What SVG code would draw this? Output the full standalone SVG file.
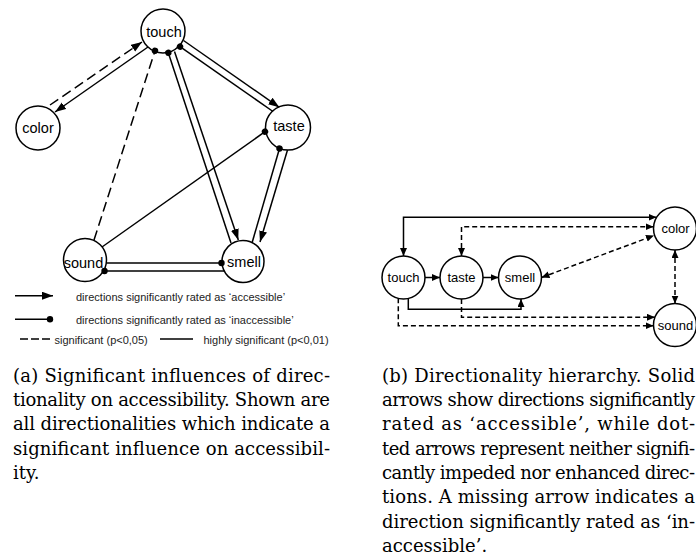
<svg xmlns="http://www.w3.org/2000/svg" width="696" height="559" viewBox="0 0 696 559">
<style>
.bg{fill:#fff}
.node{fill:#fff;stroke:#000;stroke-width:1.5}
.lbl{font-family:"Liberation Sans",Arial,sans-serif;font-size:14.5px;fill:#000;text-anchor:middle}
.lblb{font-family:"Liberation Sans",Arial,sans-serif;font-size:13px;fill:#000;text-anchor:middle}
.e{fill:none;stroke:#000;stroke-width:1.5}
.da{stroke-dasharray:10 5}
.db{stroke-dasharray:5 3}
.aa{marker-end:url(#arrA)}
.ad{marker-end:url(#dotA)}
.bb{marker-start:url(#arrB);marker-end:url(#arrB)}
.be{marker-end:url(#arrB)}
.leg{font-family:"Liberation Sans",Arial,sans-serif;font-size:11px;fill:#222}
.cap{font-family:"DejaVu Serif","Liberation Serif",serif;font-size:18px;fill:#000}
</style>
<defs>
<marker id="arrA" markerUnits="userSpaceOnUse" markerWidth="12" markerHeight="9" refX="11" refY="4" orient="auto-start-reverse"><path d="M0,0 L11,4 L0,8 z" fill="#000"/></marker>
<marker id="dotA" markerUnits="userSpaceOnUse" markerWidth="8" markerHeight="8" refX="4" refY="4" orient="auto"><circle cx="4" cy="4" r="3.2" fill="#000"/></marker>
<marker id="arrB" markerUnits="userSpaceOnUse" markerWidth="9" markerHeight="8" refX="8" refY="3.5" orient="auto-start-reverse"><path d="M0,0 L8,3.5 L0,7 z" fill="#000"/></marker>
</defs>
<rect class="bg" x="0" y="0" width="696" height="559"/>

<!-- Part (a) nodes -->
<g id="a-touch"><circle class="node" cx="163" cy="31" r="22"/><text class="lbl" x="164" y="37">touch</text></g>
<g id="a-color"><circle class="node" cx="38" cy="128" r="22"/><text class="lbl" x="38" y="133">color</text></g>
<g id="a-taste"><circle class="node" cx="288" cy="127.5" r="22.5"/><text class="lbl" x="289" y="131">taste</text></g>
<g id="a-sound"><circle class="node" cx="85" cy="260" r="21.5"/><text class="lbl" x="83.5" y="268">sound</text></g>
<g id="a-smell"><circle class="node" cx="243" cy="261.5" r="21"/><text class="lbl" x="244" y="267">smell</text></g>

<!-- Part (a) connectors -->
<g id="a-connectors">
<path class="e da aa" d="M50,105 L142,42"/>
<path class="e aa" d="M148,47 L55,112"/>
<path class="e da ad" d="M94,240 L155,50.7"/>
<path class="e ad" d="M231,243 L168.3,52.7"/>
<path class="e aa" d="M174.5,51.5 L238.3,240"/>
<path class="e aa" d="M183.5,40.5 L279.3,107.3"/>
<path class="e ad" d="M273,111.5 L180,46.7"/>
<path class="e ad" d="M252,243 L279.5,148.5"/>
<path class="e aa" d="M287.5,150 L260,242"/>
<path class="e ad" d="M102,247 L265,131.7"/>
<path class="e ad" d="M106.5,263 L221.5,263"/>
<path class="e ad" d="M224.3,271 L104.5,271"/>
</g>

<!-- Legend -->
<g id="legend">
<path class="e aa" d="M15,295.7 L53,295.7"/>
<text class="leg" x="76" y="301">directions significantly rated as ‘accessible’</text>
<path class="e ad" d="M15,319.3 L50,319.3"/>
<text class="leg" x="76" y="324">directions significantly rated as ‘inaccessible’</text>
<path class="e" style="stroke-dasharray:8 3" d="M20,339 L50,339"/>
<text class="leg" x="54.5" y="343.5">significant (p&lt;0,05)</text>
<path class="e" d="M160,339 L193,339"/>
<text class="leg" x="203.5" y="343.5">highly significant (p&lt;0,01)</text>
</g>

<!-- Part (b) nodes -->
<g id="b-touch"><circle class="node" cx="403.5" cy="277.5" r="21.5"/><text class="lblb" x="403.5" y="282">touch</text></g>
<g id="b-taste"><circle class="node" cx="461.5" cy="277.5" r="21.5"/><text class="lblb" x="461.5" y="282">taste</text></g>
<g id="b-smell"><circle class="node" cx="520" cy="277.5" r="21.5"/><text class="lblb" x="520" y="282">smell</text></g>
<g id="b-color"><circle class="node" cx="675" cy="228.5" r="21.5"/><text class="lblb" x="675.5" y="233">color</text></g>
<g id="b-sound"><circle class="node" cx="675" cy="325" r="21.5"/><text class="lblb" x="675.5" y="329.5">sound</text></g>

<!-- Part (b) connectors -->
<g id="b-connectors">
<path class="e be" d="M425,277.5 L440,277.5"/>
<path class="e be" d="M483,277.5 L498.5,277.5"/>
<path class="e bb" d="M403.5,256 L403.5,217.3 L656.5,217.3"/>
<path class="e db bb" d="M461.5,256 L461.5,226.7 L653.5,226.7"/>
<path class="e db bb" d="M541.5,277.5 L654,235.5"/>
<path class="e db bb" d="M675,250 L675,303.5"/>
<path class="e be" d="M408.3,298.5 L408.3,309.3 L521,309.3 L521,299"/>
<path class="e db be" d="M461.5,299 L461.5,317.3 L655,317.3"/>
<path class="e db be" d="M398.3,298.3 L398.3,325.7 L653.5,325.7"/>
</g>

<!-- Captions -->
<g id="caption-a">
<text class="cap" x="13" y="381.7" textLength="317" lengthAdjust="spacing">(a) Significant influences of direc-</text>
<text class="cap" x="13" y="406" textLength="317" lengthAdjust="spacing">tionality on accessibility. Shown are</text>
<text class="cap" x="13" y="430.3" textLength="317" lengthAdjust="spacing">all directionalities which indicate a</text>
<text class="cap" x="13" y="454.6" textLength="317" lengthAdjust="spacing">significant influence on accessibil-</text>
<text class="cap" x="13" y="479">ity.</text>
</g>
<g id="caption-b">
<text class="cap" x="382" y="381.7" textLength="313" lengthAdjust="spacing">(b) Directionality hierarchy. Solid</text>
<text class="cap" x="382" y="406" textLength="313" lengthAdjust="spacing">arrows show directions significantly</text>
<text class="cap" x="382" y="430.3" textLength="313" lengthAdjust="spacing">rated as ‘accessible’, while dot-</text>
<text class="cap" x="382" y="454.6" textLength="313" lengthAdjust="spacing">ted arrows represent neither signifi-</text>
<text class="cap" x="382" y="479" textLength="313" lengthAdjust="spacing">cantly impeded nor enhanced direc-</text>
<text class="cap" x="382" y="503.3" textLength="313" lengthAdjust="spacing">tions. A missing arrow indicates a</text>
<text class="cap" x="382" y="527.6" textLength="313" lengthAdjust="spacing">direction significantly rated as ‘in-</text>
<text class="cap" x="382" y="551.9">accessible’.</text>
</g>
</svg>
